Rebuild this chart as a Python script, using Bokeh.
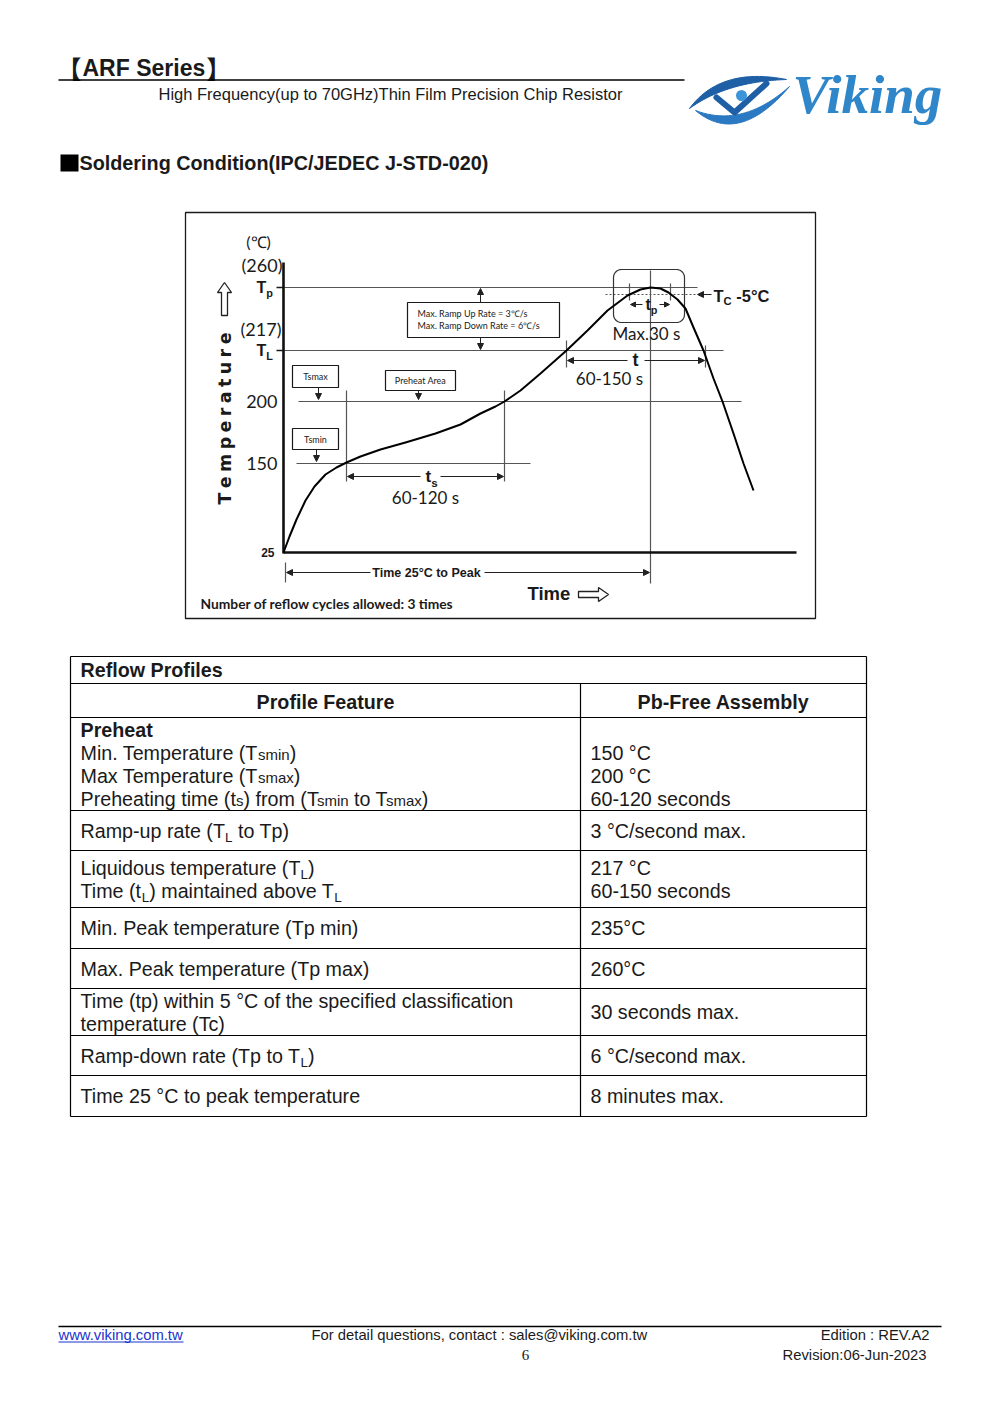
import numpy as np
from bokeh.plotting import figure
from bokeh.models import Range1d, Arrow, NormalHead
from bokeh.core.properties import value
from bokeh.embed import file_html
from bokeh.resources import INLINE

# ---------------- data ----------------
series_name = "ARF Series"
subtitle = "High Frequency(up to 70GHz)Thin Film Precision Chip Resistor"
section = "Soldering Condition(IPC/JEDEC J-STD-020)"
brand = "Viking"

# schematic reflow curve (drawing units)
curve_x = [283, 289, 296, 305, 314, 325, 336, 346, 360, 380, 405, 435, 460, 480, 495, 504,
           520, 540, 566, 587, 607, 627, 640, 650, 660, 668, 677, 685, 693, 703, 713, 722,
           733, 743, 753]
curve_y = [552, 536, 519, 500, 486, 474, 467, 462, 456, 449, 442, 433, 424, 413, 406, 401,
           390, 373, 350, 330, 310, 295, 289, 287, 288, 292, 299, 308, 327, 350, 378, 401,
           433, 463, 490]

level_labels = ["(260)", "(217)", "200", "150"]
duration_labels = ["60-120 s", "60-150 s", "Max.30 s"]
box_labels = ["Tsmax", "Preheat Area", "Tsmin"]
ramp_lines = ["Max. Ramp Up Rate = 3℃/s", "Max. Ramp Down Rate = 6℃/s"]
reflow_note = "Number of reflow cycles allowed: 3 times"

table_title = "Reflow Profiles"
col_headers = ["Profile Feature", "Pb-Free Assembly"]
feature_rows = [
    [[("Preheat", "b")],
     [("Min. Temperature (T", "r"), ("smin", "sm"), (")", "r")],
     [("Max Temperature (T", "r"), ("smax", "sm"), (")", "r")],
     [("Preheating time (t", "r"), ("s", "sm"), (") from (T", "r"), ("smin", "sm"),
      (" to T", "r"), ("smax", "sm"), (")", "r")]],
    [[("Ramp-up rate (T", "r"), ("L", "sub"), (" to Tp)", "r")]],
    [[("Liquidous temperature (T", "r"), ("L", "sub"), (")", "r")],
     [("Time (t", "r"), ("L", "sub"), (") maintained above T", "r"), ("L", "sub")]],
    [[("Min. Peak temperature (Tp min)", "r")]],
    [[("Max. Peak temperature (Tp max)", "r")]],
    [[("Time (tp) within 5 °C of the specified classification", "r")],
     [("temperature (Tc)", "r")]],
    [[("Ramp-down rate (Tp to T", "r"), ("L", "sub"), (")", "r")]],
    [[("Time 25 °C to peak temperature", "r")]],
]
value_rows = [
    ["", "150 °C", "200 °C", "60-120 seconds"],
    ["3 °C/second max."],
    ["217 °C", "60-150 seconds"],
    ["235°C"],
    ["260°C"],
    ["30 seconds max."],
    ["6 °C/second max."],
    ["8 minutes max."],
]
footer_link = "www.viking.com.tw"
footer_contact = "For detail questions, contact : sales@viking.com.tw"
footer_edition = "Edition : REV.A2"
footer_revision = "Revision:06-Jun-2023"
page_no = "6"

# ---------------- font metrics (Arial / Liberation Sans) ----------------
UP = "ABCDEFGHIJKLMNOPQRSTUVWXYZ"
LO = "abcdefghijklmnopqrstuvwxyz"
AR = dict(zip(UP, [667,667,722,722,667,611,778,722,278,500,667,556,833,722,778,667,778,722,667,611,722,667,944,667,667,611]))
AR.update(zip(LO, [556,556,500,556,556,278,556,556,222,222,500,222,833,556,556,556,556,333,500,278,556,500,722,500,500,500]))
AR.update(zip(" ()-./:,°@", [278,333,333,333,278,278,278,278,400,1015]))
AB = dict(zip(UP, [722,722,722,722,667,611,778,722,278,556,722,611,833,722,778,667,778,722,667,611,722,667,944,667,667,611]))
AB.update(zip(LO, [556,611,556,611,556,333,611,611,278,278,556,278,889,611,611,611,611,389,556,333,611,556,778,556,556,500]))
AB.update(zip(" ()-./:,°", [278,333,333,333,278,278,333,278,400]))


def tw(s, bold):
    t = AB if bold else AR
    return sum(t.get(c, 556) for c in s) / 1000.0


W, H = 975, 1387
p = figure(width=W, height=H, x_range=Range1d(0, W), y_range=Range1d(H, 0),
           output_backend="svg", toolbar_location=None, min_border=0,
           x_axis_location=None, y_axis_location=None)
p.grid.visible = False
p.outline_line_color = None
p.background_fill_color = "white"
p.border_fill_color = "white"

SANS = "Liberation Sans"
CAL = "Lato"
INK = "#1a1a1a"
GUIDE = "#555555"


def txt(x, y, s, size, font=SANS, style="normal", color=INK, align="left", angle=0.0):
    # y is the vertical middle of the text
    p.text(x=[x], y=[y], text=[s], text_font=value(font), text_font_size=f"{size}px",
           text_font_style=style, text_color=color, text_align=align,
           text_baseline="middle", angle=angle)


def runs(x, yc, parts, size, color=INK):
    prev = ""
    for s, kind in parts:
        bold = kind in ("b", "bsub")
        if kind in ("r", "b"):
            fs, dy = size, 0.0
        elif kind == "sm":
            fs, dy = size * 0.76, 0.5
        else:
            fs, dy = size * 0.68, size * 0.22
        lead = len(s) - len(s.lstrip(" "))
        if lead:
            x += tw(" " * lead, bold) * fs
            s = s.lstrip(" ")
        if kind == "sm" and prev.endswith("T"):
            x -= 2.0
        txt(x, yc + 0.36 * (size - fs) + dy, s, round(fs, 1), SANS,
            "bold" if bold else "normal", color)
        x += tw(s, bold) * fs
        prev = s
    return x


def seg(x0, y0, x1, y1, color=GUIDE, width=1.2, dash="solid"):
    p.segment(x0=[x0], y0=[y0], x1=[x1], y1=[y1], line_color=color, line_width=width,
              line_dash=dash)


def arrow(x0, y0, x1, y1, size=6, color="#222222"):
    p.add_layout(Arrow(end=NormalHead(size=size, line_color=color, fill_color=color),
                       x_start=x0, y_start=y0, x_end=x1, y_end=y1,
                       line_color=color, line_width=1))


def box(l, r, t, b, width=1.2):
    p.quad(left=[l], right=[r], top=[t], bottom=[b], fill_color="white",
           line_color=INK, line_width=width)


def rrect(l, r, t, b, rad):
    xs, ys = [], []
    for cx, cy, a0 in [(r - rad, t + rad, -np.pi / 2), (r - rad, b - rad, 0.0),
                       (l + rad, b - rad, np.pi / 2), (l + rad, t + rad, np.pi)]:
        a = np.linspace(a0, a0 + np.pi / 2, 8)
        xs += list(cx + rad * np.cos(a))
        ys += list(cy + rad * np.sin(a))
    return xs + [xs[0]], ys + [ys[0]]


# ---------------- header ----------------
txt(56, 67, "【", 25, "Noto Sans CJK SC", "bold")
txt(82, 67, series_name, 23, SANS, "bold")
txt(82 + tw(series_name, True) * 23 + 1, 67, "】", 25, "Noto Sans CJK SC", "bold")
seg(58, 79.5, 684, 79.5, color="black", width=1.6)
txt(158, 93, subtitle, 16.5)


def qbez(p0, c, p1, n=24):
    t = np.linspace(0, 1, n)[:, None]
    return (1 - t) ** 2 * np.array(p0) + 2 * (1 - t) * t * np.array(c) + t ** 2 * np.array(p1)


up = np.vstack([qbez((689, 108), (720, 66), (786, 79)), qbez((786, 79), (726, 81), (689, 108))])
p.patch(up[:, 0], up[:, 1], fill_color="#1f5fa6", line_color="#1f5fa6", line_width=1)
lo = np.vstack([qbez((695, 110), (738, 146), (789, 86)), qbez((789, 86), (742, 128), (695, 110))])
p.patch(lo[:, 0], lo[:, 1], fill_color="#2b79c2", line_color="#2b79c2", line_width=1)
p.line([716, 734, 766], [97, 112, 83], line_color="#1f5fa6", line_width=6, line_join="round",
       line_cap="round")
p.scatter([741], [95], size=11, fill_color="#3c95d8", line_color=None)
txt(792, 94, brand, 55, "Liberation Serif", "bold italic", "#2f86c9")

# section title
p.quad(left=[60], right=[78], top=[154], bottom=[171], fill_color="black", line_color=None)
txt(79, 162, section, 19.8, SANS, "bold")

# ---------------- chart ----------------
p.quad(left=[185], right=[815], top=[212], bottom=[618], fill_color=None,
       line_color=INK, line_width=1.3)

# guide lines
seg(283, 287, 697, 287)
seg(283, 350, 723, 350)
seg(298, 401, 741, 401)
seg(296, 463, 530, 463)
seg(605, 294, 696, 294, dash="2 2")
for vx, a, b in [(346, 390, 481), (504, 390, 481), (566, 340, 367), (705, 345, 367),
                 (650, 270, 583), (285, 562, 582), (629, 283, 300), (670, 283, 300)]:
    seg(vx, a, vx, b)
seg(276, 287, 283, 287, color=INK, width=1.5)
seg(276, 350, 283, 350, color=INK, width=1.5)

# axes
seg(283, 262, 283, 553, color="#111111", width=2.6)
seg(283, 552, 796, 552, color="#111111", width=2.6)

# peak box
bx, by = rrect(613, 684, 269, 322, 8)
p.line(bx, by, line_color="#333333", line_width=1.2)

# curve
p.line(curve_x, curve_y, line_color="black", line_width=2, line_join="round")

# labelled boxes
box(407, 559, 302, 337)
txt(417, 313, ramp_lines[0], 9, CAL)
txt(417, 325, ramp_lines[1], 9, CAL)
box(292, 338, 365, 387)
txt(315, 376, box_labels[0], 9, CAL, align="center")
box(385, 455, 370, 390)
txt(420, 380, box_labels[1], 9, CAL, align="center")
box(292, 338, 428, 449)
txt(315, 438.5, box_labels[2], 9, CAL, align="center")

# arrows
for a in [(480, 302, 480, 288), (480, 337, 480, 349), (318, 387, 318, 399),
          (418, 390, 418, 399), (316, 449, 316, 461),
          (420, 476, 347, 476), (440, 476, 503, 476),
          (627, 360, 567, 360), (644, 360, 704, 360),
          (370, 572, 286, 572), (484, 572, 649, 572),
          (711, 294, 697, 294)]:
    arrow(*a)
arrow(642, 304, 630, 304, size=5)
arrow(659, 304, 669, 304, size=5)

# axis texts
txt(258, 241, "(℃)", 16, CAL, align="center")
txt(282, 264, level_labels[0], 18, CAL, align="right")
txt(281, 328, level_labels[1], 18, CAL, align="right")
txt(277, 401, level_labels[2], 18, CAL, align="right")
txt(277, 463, level_labels[3], 18, CAL, align="right")
txt(274, 552, "25", 12, SANS, "bold", align="right")
runs(256, 287, [("T", "b"), ("p", "bsub")], 16)
runs(256, 350, [("T", "b"), ("L", "bsub")], 16)

# duration texts
txt(425, 497, duration_labels[0], 17, CAL, align="center")
txt(609, 378, duration_labels[1], 17, CAL, align="center")
txt(646, 333, duration_labels[2], 17, CAL, align="center")
txt(635, 359, "t", 18, SANS, "bold", align="center")
runs(425, 476, [("t", "b"), ("s", "bsub")], 17)
runs(645, 304, [("t", "b"), ("p", "bsub")], 16)
runs(713, 295, [("T", "b"), ("C", "bsub"), (" -5°C", "b")], 16.5)

# temperature label (letter spaced, rotated)
DV = {"T": 682, "e": 678, "m": 1042, "p": 716, "r": 493, "a": 675, "t": 478, "u": 712}
word = "Temperature"
fs = 17.5
ws = [DV[c] / 1000 * fs for c in word]
gap = (172 - sum(ws)) / (len(word) - 1)
pos = 504.0
for c, wc in zip(word, ws):
    txt(224, pos - wc / 2, c, fs, "DejaVu Sans", "bold", align="center", angle=np.pi / 2)
    pos -= wc + gap
ux = [221, 221, 217, 224, 231, 227, 227, 221]
uy = [315, 292, 292, 282, 292, 292, 315, 315]
p.patch(ux, uy, fill_color="white", line_color="#222222", line_width=1.3)

# time label
txt(426, 572, "Time 25°C to Peak", 12.5, SANS, "bold", align="center")
txt(527, 593, "Time", 18.5, SANS, "bold")
rx = [578, 598, 598, 608, 598, 598, 578, 578]
ry = [591, 591, 587, 594, 601, 597, 597, 591]
p.patch(rx, ry, fill_color="white", line_color="#222222", line_width=1.3)
txt(200, 603, reflow_note, 13.8, CAL, "bold")

# ---------------- table ----------------
TL, TR, TC = 70, 866, 580
FS = 19.7
row_lines = [717, 810, 850, 907, 948, 988, 1035, 1075, 1116]
for yy in [656, 683] + row_lines:
    seg(TL, yy, TR, yy, color="black", width=1.2)
seg(TL, 656, TL, 1116, color="black", width=1.2)
seg(TR, 656, TR, 1116, color="black", width=1.2)
seg(TC, 683, TC, 1116, color="black", width=1.2)

txt(80, 669, table_title, FS, SANS, "bold")
txt((TL + TC) / 2, 701, col_headers[0], FS, SANS, "bold", align="center")
txt((TC + TR) / 2, 701, col_headers[1], FS, SANS, "bold", align="center")

PITCH = 23
for i, (left, right) in enumerate(zip(feature_rows, value_rows)):
    mid = (row_lines[i] + row_lines[i + 1]) / 2
    n = len(left)
    for j, line in enumerate(left):
        yc = mid + (j - (n - 1) / 2) * PITCH
        runs(80, yc, line, FS)
    m = len(right)
    for j, s in enumerate(right):
        if s:
            yc = mid + (j - (m - 1) / 2) * PITCH
            txt(590, yc, s, FS)

# ---------------- footer ----------------
seg(58, 1326, 941, 1326, color="black", width=1.6)
txt(58, 1334, footer_link, 14.8, color="#1a33cc")
seg(58, 1341.5, 58 + tw(footer_link, False) * 14.8, 1341.5, color="#1a33cc", width=1)
txt(311, 1334, footer_contact, 14.8)
txt(929, 1334, footer_edition, 14.8, align="right")
txt(926, 1354, footer_revision, 14.8, align="right")
txt(525, 1354, page_no, 15, "Liberation Serif", align="center")

open("out.html", "w").write(file_html(p, INLINE))
